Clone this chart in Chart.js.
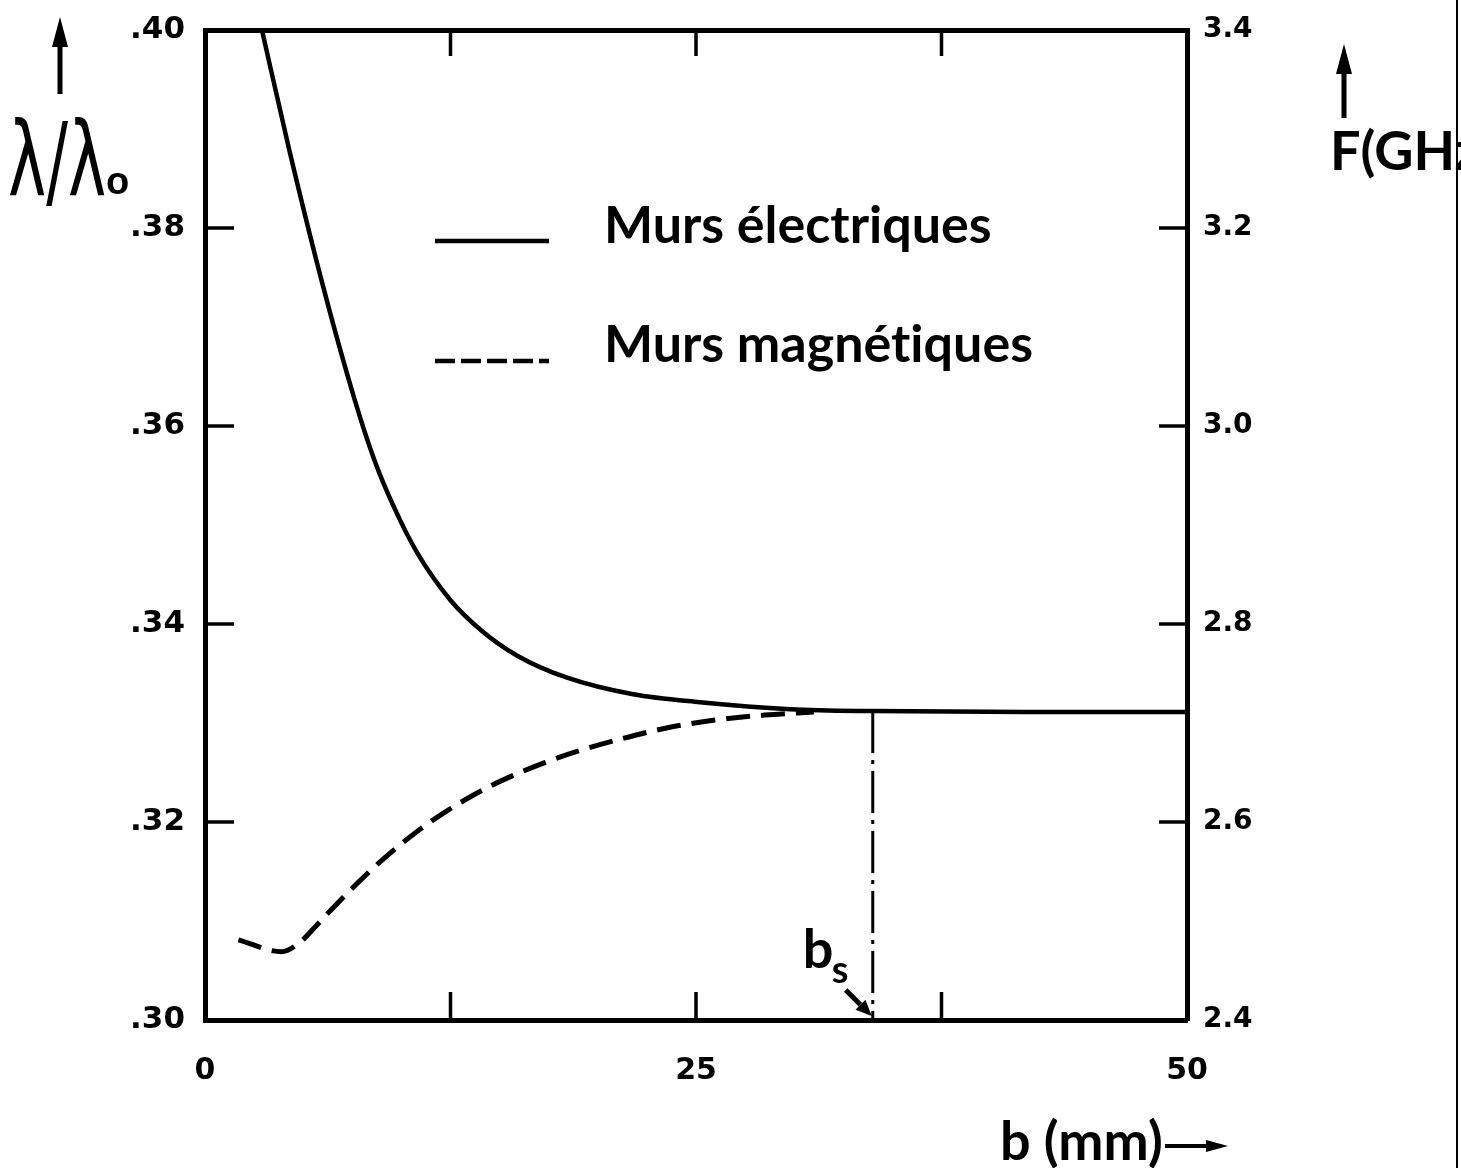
<!DOCTYPE html>
<html>
<head>
<meta charset="utf-8">
<title>Longueur d'onde réduite en fonction de b</title>
<script src="https://cdn.jsdelivr.net/npm/chart.js@4.4.1/dist/chart.umd.min.js"></script>
<style>
  html, body { margin: 0; padding: 0; background: #fff; }
</style>
</head>
<body>
<canvas id="courbes" width="1461" height="1168"></canvas>
<script>
// b (mm) / lambda/lambda0 -- murs electriques (trait plein)
const bElec = [2.9, 4.3, 6.0, 7.6, 8.6, 9.6, 10.8, 12.5, 14.1, 15.9, 18.4, 21.8, 25.2, 29.8, 34.0, 42.0, 50.0];
const lambdaElec = [0.400, 0.3878, 0.3742, 0.3628, 0.3567, 0.3519, 0.3472, 0.3424, 0.3393, 0.3368, 0.3346, 0.3329, 0.3321, 0.3314, 0.3312, 0.3311, 0.3311];

// murs magnetiques (tirets)
const bMagn = [1.7, 3.9, 4.8, 5.7, 6.6, 7.8, 9.1, 10.7, 12.3, 14.2, 15.8, 17.3, 18.9, 21.2, 23.5, 26.0, 28.5, 31.0];
const lambdaMagn = [0.3081, 0.3069, 0.3078, 0.3096, 0.3115, 0.3139, 0.3163, 0.3189, 0.3211, 0.3233, 0.3248, 0.3260, 0.3271, 0.3284, 0.3295, 0.3303, 0.3308, 0.3311];

// b_s : point ou les deux courbes se rejoignent
const bSeuil = [34.0, 34.0];
const lambdaSeuil = [0.3312, 0.30];

// graduations
const bTicks = [0, 12.5, 25, 37.5, 50];
const bLabels = [0, 25, 50];
const lambdaTicks = [0.30, 0.32, 0.34, 0.36, 0.38, 0.40];
const freqTicks = [2.4, 2.6, 2.8, 3.0, 3.2, 3.4];

const toPoints = (xs, ys) => xs.map((x, i) => ({ x: x, y: ys[i] }));

Chart.defaults.font.family = '"DejaVu Sans", "Liberation Sans", sans-serif';
Chart.defaults.color = '#000';

function arrow(ctx, x1, y1, x2, y2, head, half) {
  const ang = Math.atan2(y2 - y1, x2 - x1);
  const bx = x2 - Math.cos(ang) * head, by = y2 - Math.sin(ang) * head;
  ctx.beginPath();
  ctx.moveTo(x1, y1);
  ctx.lineTo(bx, by);
  ctx.stroke();
  ctx.beginPath();
  ctx.moveTo(x2, y2);
  ctx.lineTo(bx + Math.sin(ang) * half, by - Math.cos(ang) * half);
  ctx.lineTo(bx - Math.sin(ang) * half, by + Math.cos(ang) * half);
  ctx.closePath();
  ctx.fill();
}

// axes verticaux : pas de marge supplementaire pour les etiquettes extremes
function fitVertical(width) {
  return s => {
    s.width = width;
    s.paddingTop = 0;
    s.paddingBottom = 0;
  };
}

// petites graduations vers l'interieur, legende et titres
const habillage = {
  id: 'habillage',
  afterDraw(chart) {
    const { ctx, chartArea: a, scales } = chart;
    ctx.save();
    ctx.strokeStyle = '#000';
    ctx.fillStyle = '#000';

    ctx.lineWidth = 3.5;
    ctx.beginPath();
    lambdaTicks.slice(1, -1).forEach(v => {
      const y = scales.y.getPixelForValue(v);
      ctx.moveTo(a.left, y); ctx.lineTo(a.left + 29, y);
    });
    freqTicks.slice(1, -1).forEach(v => {
      const y = scales.y2.getPixelForValue(v);
      ctx.moveTo(a.right, y); ctx.lineTo(a.right - 28, y);
    });
    bTicks.slice(1, -1).forEach(v => {
      const x = scales.x.getPixelForValue(v);
      ctx.moveTo(x, a.bottom); ctx.lineTo(x, a.bottom - 28);
      ctx.moveTo(x, a.top); ctx.lineTo(x, a.top + 26);
    });
    ctx.stroke();

    // legende
    ctx.lineWidth = 4.5;
    ctx.beginPath();
    ctx.moveTo(435, 241); ctx.lineTo(549, 241);
    ctx.stroke();
    ctx.setLineDash([20, 6]);
    ctx.beginPath();
    ctx.moveTo(435, 361); ctx.lineTo(549, 361);
    ctx.stroke();
    ctx.setLineDash([]);
    ctx.font = 'bold 52px Lato';
    ctx.textBaseline = 'alphabetic';
    ctx.fillText('Murs électriques', 604, 243);
    // \u200C : pas de ligature "ti"
    ctx.fillText('Murs magnét\u200Ciques', 604, 362);

    // titre de l'axe gauche
    ctx.lineWidth = 5;
    arrow(ctx, 60, 94, 60, 17, 30, 8);
    ctx.save();
    ctx.translate(8, 196);
    ctx.scale(0.62, 1);
    ctx.font = '104px "DejaVu Sans"';
    ctx.fillText('λ/λ', 0, 0);
    ctx.restore();
    ctx.font = 'bold 38px "Liberation Sans"';
    ctx.fillText('o', 106, 194);

    // titre de l'axe droit
    arrow(ctx, 1344, 118, 1344, 44, 30, 8);
    ctx.font = 'bold 54px Lato';
    ctx.fillText('F(GHz', 1330, 170);

    // titre de l'axe des b
    ctx.font = 'bold 54px Lato';
    ctx.fillText('b (mm)', 1000, 1160);
    ctx.lineWidth = 4;
    arrow(ctx, 1165, 1146, 1228, 1146, 22, 6);

    // repere b_s
    const xs = scales.x.getPixelForValue(bSeuil[1]);
    ctx.font = 'bold 54px Lato';
    ctx.fillText('b', xs - 70, 968);
    ctx.font = 'bold 38px Lato';
    ctx.fillText('s', xs - 41, 983);
    ctx.lineWidth = 5;
    arrow(ctx, xs - 27, 990, xs - 1, a.bottom - 4, 16, 7);

    // bord de la feuille
    ctx.lineWidth = 2;
    ctx.beginPath();
    ctx.moveTo(1457, 0); ctx.lineTo(1457, 1168);
    ctx.stroke();
    ctx.restore();
  }
};

const canvas = document.getElementById('courbes');
new Chart(canvas, {
  type: 'line',
  data: {
    datasets: [{
      label: 'Murs électriques',
      data: toPoints(bElec, lambdaElec),
      borderColor: '#000',
      borderWidth: 4.5,
      pointRadius: 0,
      cubicInterpolationMode: 'monotone',
      fill: false
    }, {
      label: 'Murs magnétiques',
      data: toPoints(bMagn, lambdaMagn),
      borderColor: '#000',
      borderWidth: 5,
      borderDash: [24, 11],
      pointRadius: 0,
      cubicInterpolationMode: 'monotone',
      fill: false
    }, {
      label: 'bs',
      data: toPoints(bSeuil, lambdaSeuil),
      borderColor: '#000',
      borderWidth: 3,
      borderDash: [42, 7, 4, 7],
      pointRadius: 0,
      fill: false
    }]
  },
  options: {
    responsive: false,
    animation: false,
    layout: { padding: 0 },
    plugins: {
      legend: { display: false },
      tooltip: { enabled: false }
    },
    scales: {
      x: {
        type: 'linear',
        position: 'bottom',
        min: 0,
        max: 50,
        afterBuildTicks: s => { s.ticks = bTicks.map(v => ({ value: v })); },
        afterFit: s => { s.height = 148; s.paddingLeft = 0; s.paddingRight = 0; },
        ticks: {
          callback: v => bLabels.includes(v) ? String(v) : '',
          font: { size: 30, weight: 'bold' },
          padding: 33,
          maxRotation: 0
        },
        grid: { drawOnChartArea: false, drawTicks: false },
        border: { color: '#000', width: 5 }
      },
      xTop: {
        type: 'linear',
        position: 'top',
        display: true,
        min: 0,
        max: 50,
        afterFit: s => { s.height = 30; },
        ticks: { display: false },
        grid: { drawOnChartArea: false, drawTicks: false },
        border: { color: '#000', width: 5 }
      },
      y: {
        type: 'linear',
        position: 'left',
        min: 0.30,
        max: 0.40,
        afterBuildTicks: s => { s.ticks = lambdaTicks.map(v => ({ value: v })); },
        afterFit: fitVertical(205),
        ticks: {
          callback: v => '.' + Math.round(v * 100),
          font: { size: 31, weight: 'bold' },
          padding: 20
        },
        grid: { drawOnChartArea: false, drawTicks: false },
        border: { color: '#000', width: 5 }
      },
      y2: {
        type: 'linear',
        position: 'right',
        display: true,
        min: 2.4,
        max: 3.4,
        afterBuildTicks: s => { s.ticks = freqTicks.map(v => ({ value: v })); },
        afterFit: fitVertical(274),
        ticks: {
          callback: v => v.toFixed(1),
          font: { size: 28, weight: 'bold' },
          padding: 16
        },
        grid: { drawOnChartArea: false, drawTicks: false },
        border: { color: '#000', width: 5 }
      }
    }
  },
  plugins: [habillage]
});
</script>
</body>
</html>
